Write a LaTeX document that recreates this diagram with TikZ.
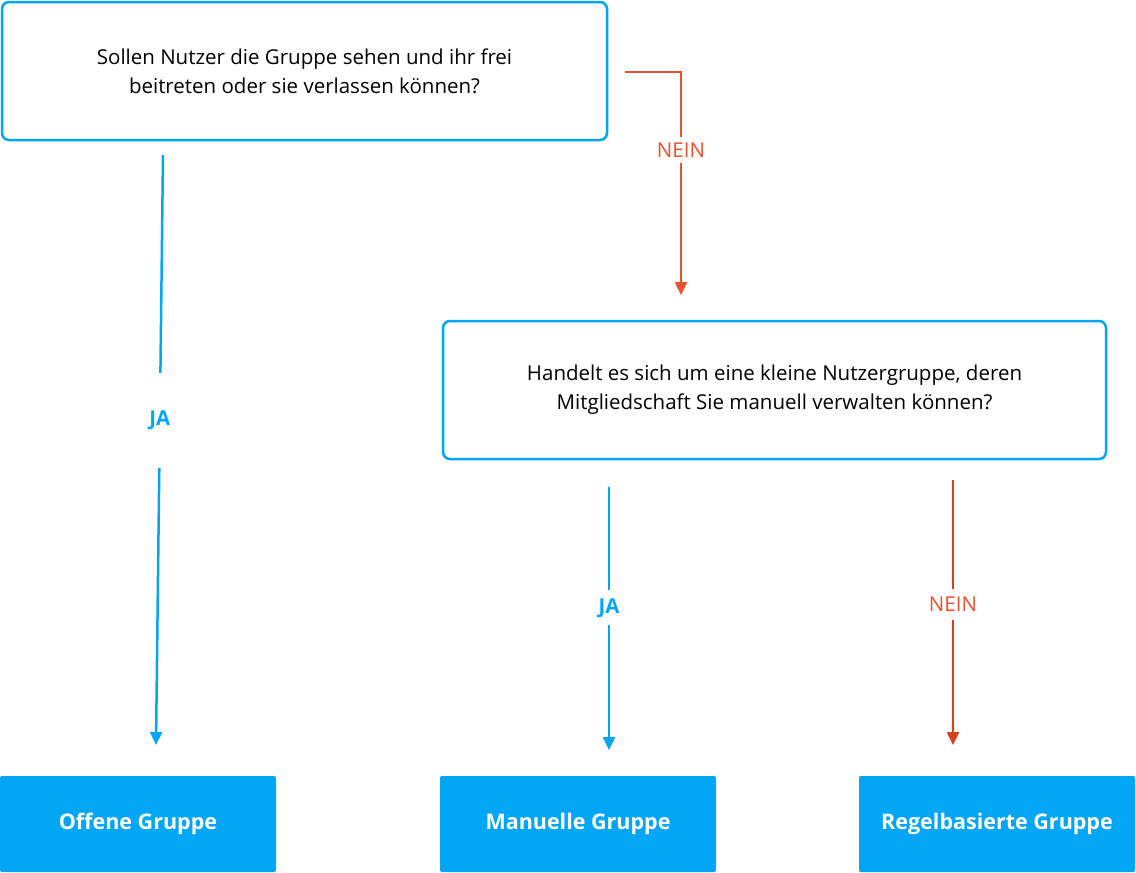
\documentclass[tikz,border=0pt]{standalone}
\usepackage{fontspec}
\setmainfont{Open Sans}
\usetikzlibrary{arrows.meta}
\definecolor{bl}{HTML}{03A5F5}
\definecolor{rd}{HTML}{E8532F}
\definecolor{rd2}{HTML}{D9401F}
\begin{document}
\begin{tikzpicture}[x=1pt,y=-1pt,
 q/.style={draw=bl,line width=2.5pt,rounded corners=7pt,fill=white,align=center,font=\fontsize{20.5}{29}\selectfont},
 r/.style={fill=bl,rounded corners=2pt,text=white,font=\fontsize{21.5}{26}\selectfont\bfseries,minimum width=276pt,minimum height=96pt},
 a/.style={line width=2.5pt,-{Triangle[length=13pt,width=12pt]}},
 lb/.style={fill=white,font=\fontsize{20.5}{24}\selectfont,inner sep=4pt}]
\useasboundingbox (0,0) rectangle (1136,873);
\node[q,minimum width=605pt,minimum height=138pt] (q1) at (304.5,71) {Sollen Nutzer die Gruppe sehen und ihr frei\\beitreten oder sie verlassen können?};
\node[q,minimum width=663pt,minimum height=138pt] (q2) at (774.5,390) {Handelt es sich um eine kleine Nutzergruppe, deren\\Mitgliedschaft Sie manuell verwalten können?};
\node[r] (o) at (138,824) {Offene Gruppe};
\node[r] (m) at (578,824) {Manuelle Gruppe};
\node[r] (g) at (997,824) {Regelbasierte Gruppe};
\coordinate (s1) at (163,155); \coordinate (e1) at (156,745);
\coordinate (s2) at (625,72); \coordinate (k2) at (681,72); \coordinate (e2) at (681,295);
\coordinate (s3) at (609,487); \coordinate (e3) at (609,750);
\coordinate (s4) at (953,480); \coordinate (e4) at (953,745);
\draw[a,bl] (s1) -- node[lb,text=bl,font=\fontsize{20.5}{24}\selectfont\bfseries,inner ysep=38pt,pos=0.45]{JA} (e1);
\draw[a,rd] (s2) -- (k2) -- node[lb,text=rd,pos=0.35,inner ysep=6pt]{NEIN} (e2);
\draw[a,bl] (s3) -- node[lb,text=bl,font=\fontsize{20.5}{24}\selectfont\bfseries,inner ysep=8pt,pos=0.46]{JA} (e3);
\draw[a,rd2] (s4) -- node[lb,text=rd,inner ysep=8pt,pos=0.47]{NEIN} (e4);
\end{tikzpicture}
\end{document}
